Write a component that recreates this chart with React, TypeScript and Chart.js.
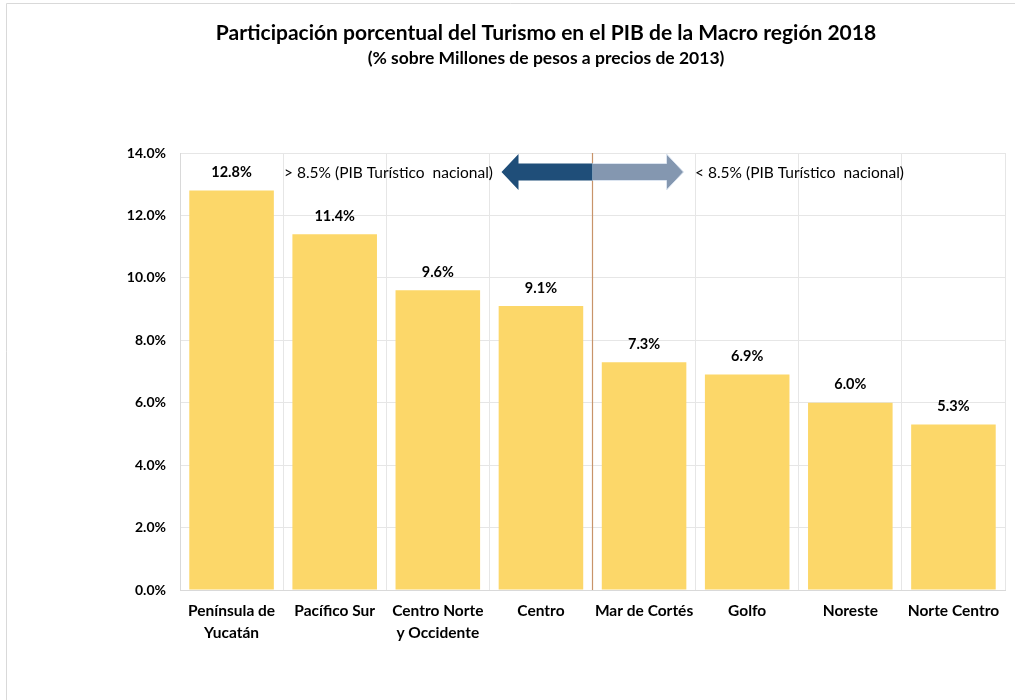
import React, { useEffect, useRef } from "react";
import { Chart, registerables } from "chart.js";

Chart.register(...registerables);

const categories: (string | string[])[] = [
  ["Península de", "Yucatán"],
  "Pacífico Sur",
  ["Centro Norte", "y Occidente"],
  "Centro",
  "Mar de Cortés",
  "Golfo",
  "Noreste",
  "Norte Centro",
];
const values = [12.8, 11.4, 9.6, 9.1, 7.3, 6.9, 6.0, 5.3];
const yTicks = [0, 2, 4, 6, 8, 10, 12, 14];
const titleText = "Participación porcentual del Turismo en el PIB de la Macro región 2018";
const subtitleText = "(% sobre Millones de pesos a precios de 2013)";
const leftNote = "> 8.5% (PIB Turístico  nacional)";
const rightNote = "< 8.5% (PIB Turístico  nacional)";
const splitAfterIndex = 3;

const FONT = "Lato, 'Open Sans', sans-serif";

const overlay = {
  id: "overlay",
  afterDraw(chart: any) {
    const ctx = chart.ctx as CanvasRenderingContext2D;
    const area = chart.chartArea;
    const xs = chart.scales.x;
    const ys = chart.scales.y;
    ctx.save();
    // frame
    ctx.strokeStyle = "#d9d9d9";
    ctx.lineWidth = 1;
    ctx.beginPath();
    ctx.moveTo(6.5, 700);
    ctx.lineTo(6.5, 3.5);
    ctx.lineTo(1015, 3.5);
    ctx.stroke();

    // titles
    ctx.fillStyle = "#000";
    ctx.textAlign = "center";
    ctx.textBaseline = "middle";
    ctx.font = `bold 21px ${FONT}`;
    ctx.fillText(titleText, 546, 33);
    ctx.font = `bold 17.5px ${FONT}`;
    ctx.fillText(subtitleText, 546, 58);

    // value labels
    ctx.font = `bold 14.5px ${FONT}`;
    values.forEach((v, i) => {
      const x = xs.getPixelForValue(i);
      const y = ys.getPixelForValue(v);
      ctx.fillText(v.toFixed(1) + "%", x, y - 18);
    });

    // divider line
    const xDiv = (xs.getPixelForValue(splitAfterIndex) + xs.getPixelForValue(splitAfterIndex + 1)) / 2;
    ctx.strokeStyle = "#c8946a";
    ctx.lineWidth = 1.2;
    ctx.beginPath();
    ctx.moveTo(xDiv, area.top);
    ctx.lineTo(xDiv, area.bottom);
    ctx.stroke();

    // arrows
    const cy = area.top + 19;
    const drawArrow = (dir: number, color: string) => {
      const tip = xDiv + dir * 91;
      const back = xDiv + dir * 74;
      ctx.beginPath();
      ctx.moveTo(xDiv, cy - 8.5);
      ctx.lineTo(back, cy - 8.5);
      ctx.lineTo(back, cy - 18);
      ctx.lineTo(tip, cy);
      ctx.lineTo(back, cy + 18);
      ctx.lineTo(back, cy + 8.5);
      ctx.lineTo(xDiv, cy + 8.5);
      ctx.closePath();
      ctx.fillStyle = color;
      ctx.fill();
    };
    drawArrow(1, "#8497b0");
    ctx.strokeStyle = "#dbe4f0";
    ctx.lineWidth = 1;
    ctx.stroke();
    drawArrow(-1, "#1f4e79");

    // notes
    ctx.fillStyle = "#000";
    ctx.font = `15.5px ${FONT}`;
    ctx.textAlign = "left";
    ctx.fillText(leftNote, 284, cy + 1);
    ctx.fillText(rightNote, 695, cy + 1);
    ctx.restore();
  },
};

export default function App() {
  const ref = useRef<HTMLCanvasElement>(null);
  useEffect(() => {
    if (!ref.current) return;
    const chart = new Chart(ref.current, {
      type: "bar",
      data: {
        labels: categories,
        datasets: [
          {
            data: values,
            backgroundColor: "#fcd769",
            borderWidth: 0,
            barPercentage: 0.82,
            categoryPercentage: 1,
          },
        ],
      },
      options: {
        responsive: false,
        animation: false,
        layout: { padding: { top: 153, right: 10, left: 0, bottom: 0 } },
        plugins: { legend: { display: false }, tooltip: { enabled: false }, title: { display: false } },
        scales: {
          x: {
            grid: { color: "#e6e6e6", drawTicks: false, offset: true },
            border: { color: "#d9d9d9" },
            ticks: {
              color: "#000",
              font: { family: FONT, size: 15.5, weight: "bold", lineHeight: 1.42 },
              padding: 10,
              maxRotation: 0,
              autoSkip: false,
            },
            afterFit(scale: any) {
              scale.height = 110;
            },
          },
          y: {
            min: 0,
            max: 14,
            afterBuildTicks(scale: any) {
              scale.ticks = yTicks.map((v) => ({ value: v }));
            },
            grid: { color: "#e6e6e6", drawTicks: false },
            border: { color: "#d9d9d9" },
            ticks: {
              color: "#000",
              font: { family: FONT, size: 14, weight: "bold" },
              padding: 14,
              callback: (v: any) => Number(v).toFixed(1) + "%",
            },
            afterFit(scale: any) {
              scale.width = 180;
            },
          },
        },
      },
      plugins: [overlay],
    });
    return () => chart.destroy();
  }, []);
  return (
    <div style={{ position: "absolute", left: 0, top: 0, width: 1015, height: 700, background: "#fff" }}>
      <canvas ref={ref} width={1015} height={700} style={{ display: "block" }} />
    </div>
  );
}
